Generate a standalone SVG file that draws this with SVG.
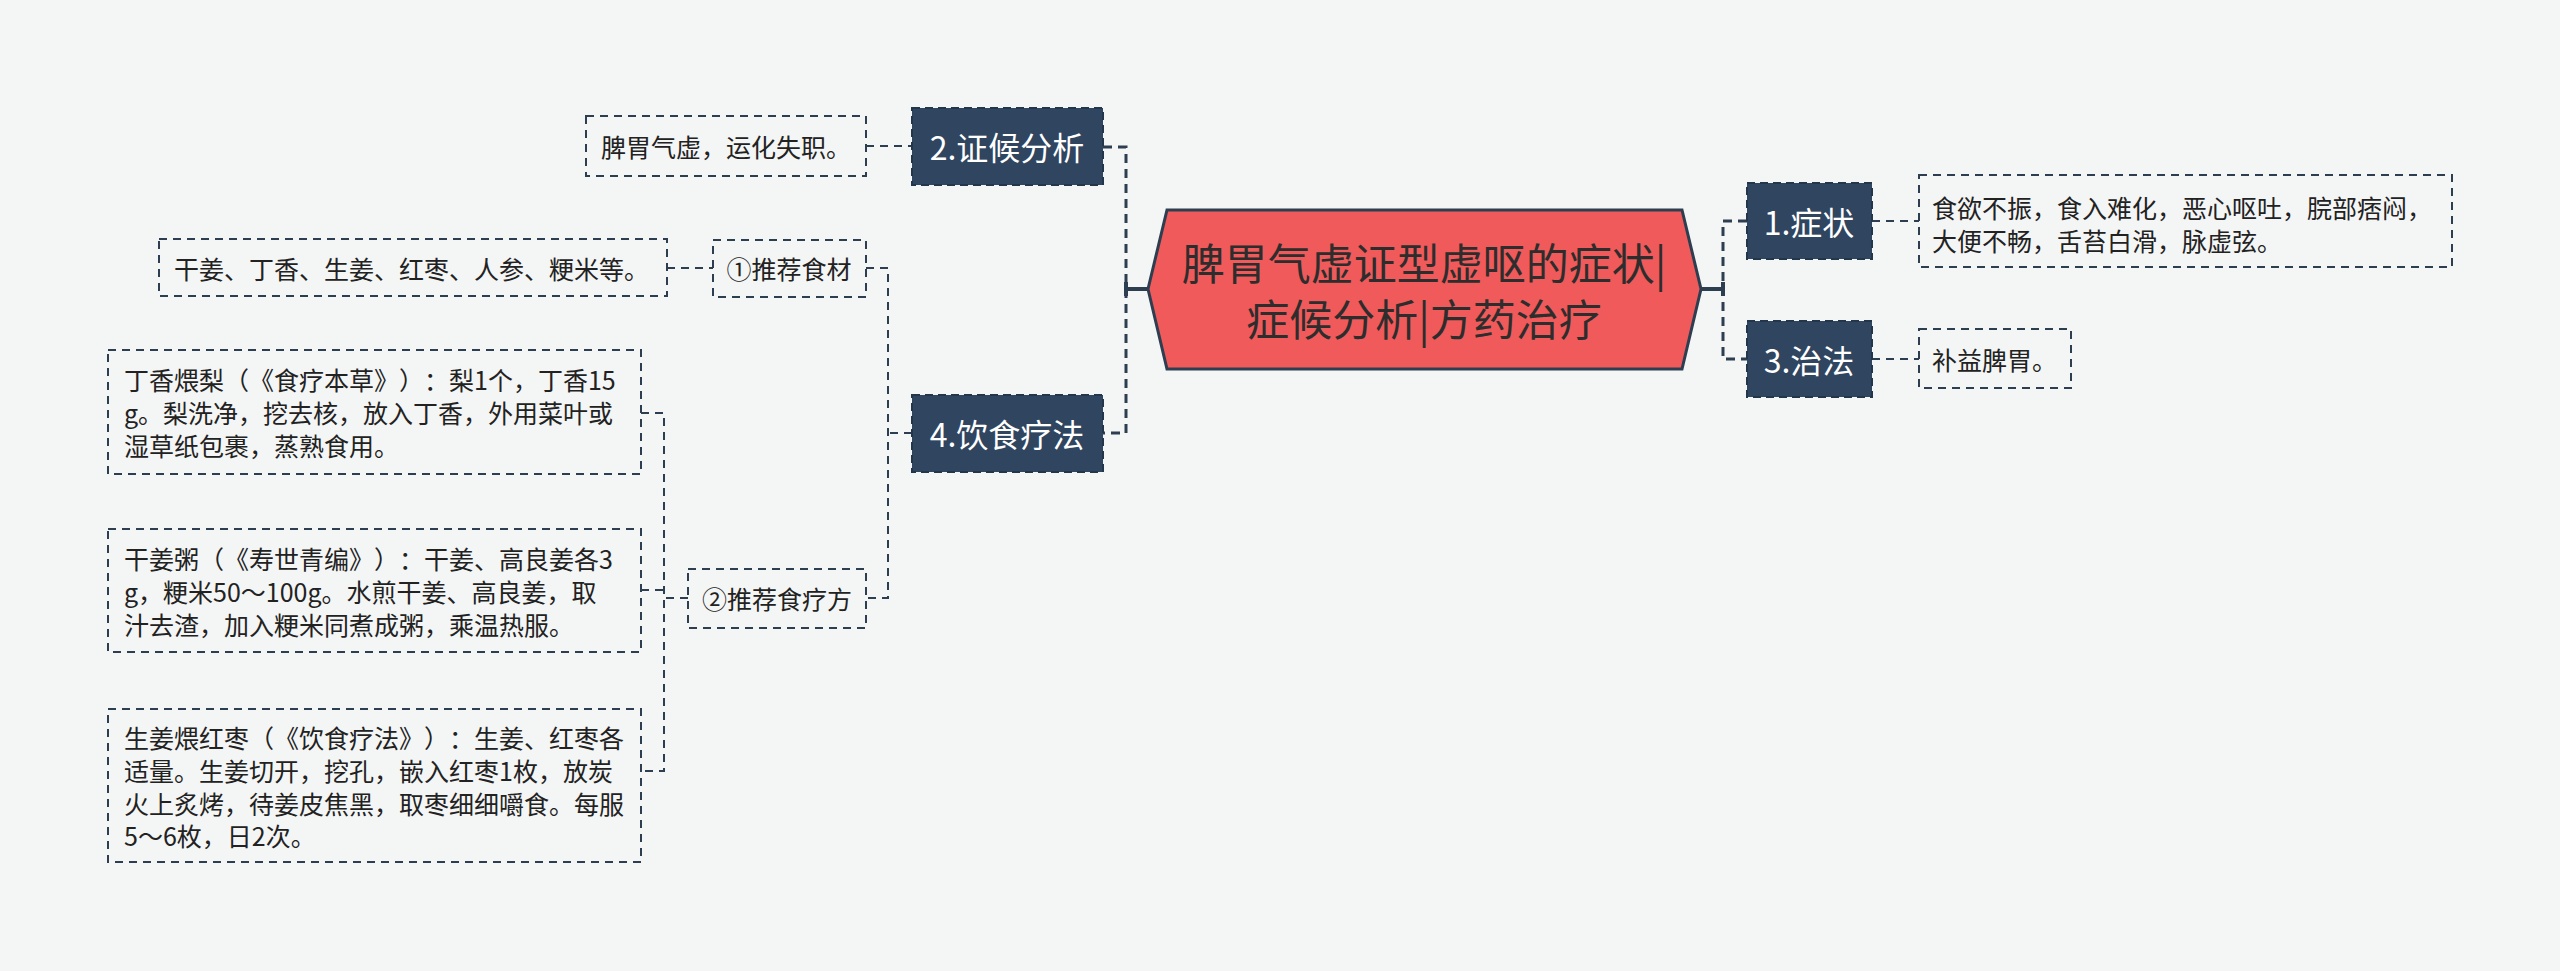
<svg xmlns="http://www.w3.org/2000/svg" width="2560" height="971" viewBox="0 0 2560 971">
<style>
text{font-family:"Noto Sans CJK SC","Noto Sans",sans-serif;dominant-baseline:central;text-spacing-trim:space-all;font-kerning:none}
.d{fill:none;stroke:#2c3e50;stroke-width:2;stroke-dasharray:8 6}
.p{fill:#2f4560;stroke:#22364c;stroke-width:2;stroke-dasharray:8 5}
.pt{fill:#ffffff;font-size:32px;text-anchor:middle}
.t{fill:#222222;font-size:25px}
.c{fill:none;stroke:#2c3e50;stroke-width:3;stroke-dasharray:9 6}
.s{fill:none;stroke:#2c3e50;stroke-width:4}
</style>
<rect width="2560" height="971" fill="#f4f5f5"/>
<g id="connectors">
<path class="s" d="M1148 289H1126M1126 282V296"/>
<path class="c" d="M1103 147H1126V433H1103"/>
<path class="d" d="M866 146H912"/>
<path class="d" d="M912 433H888M866 268H888V598H866"/>
<path class="d" d="M667 268H713"/>
<path class="d" d="M688 598H664M641 413H664V771H641M641 590H664"/>
<path class="s" d="M1701 289H1723M1723 282V296"/>
<path class="c" d="M1747 221H1723V359H1747"/>
<path class="d" d="M1872 221H1919M1872 359H1919"/>
</g>
<g id="root">
<polygon points="1148,289 1167,210 1682,210 1701,289 1682,369 1167,369" fill="#f05a5a" stroke="#2c3e50" stroke-width="3"/>
<text x="1424" y="261" font-size="43" fill="#2d2d2d" text-anchor="middle">脾胃气虚证型虚呕的症状|</text>
<text x="1424" y="317" font-size="43" fill="#2d2d2d" text-anchor="middle">症候分析|方药治疗</text>
</g>
<g id="n1">
<rect class="p" x="1747" y="183" width="125" height="76"/>
<text class="pt" x="1809" y="221">1.症状</text>
</g>
<g id="n1d">
<rect class="d" x="1919" y="175" width="533" height="92"/>
<text class="t" x="1932" y="207">食欲不振，食入难化，恶心呕吐，脘部痞闷，</text>
<text class="t" x="1932" y="240">大便不畅，舌苔白滑，脉虚弦。</text>
</g>
<g id="n3">
<rect class="p" x="1747" y="321" width="125" height="76"/>
<text class="pt" x="1809" y="359">3.治法</text>
</g>
<g id="n3d">
<rect class="d" x="1919" y="329" width="152" height="59"/>
<text class="t" x="1932" y="359">补益脾胃。</text>
</g>
<g id="n2">
<rect class="p" x="912" y="108" width="191" height="77"/>
<text class="pt" x="1007" y="146">2.证候分析</text>
</g>
<g id="n2d">
<rect class="d" x="586" y="116" width="280" height="60"/>
<text class="t" x="601" y="146">脾胃气虚，运化失职。</text>
</g>
<g id="n4">
<rect class="p" x="912" y="395" width="191" height="77"/>
<text class="pt" x="1007" y="433">4.饮食疗法</text>
</g>
<g id="n41">
<rect class="d" x="713" y="240" width="153" height="57"/>
<text class="t" x="789" y="268" text-anchor="middle">①推荐食材</text>
</g>
<g id="n41d">
<rect class="d" x="159" y="239" width="508" height="57"/>
<text class="t" x="174" y="268">干姜、丁香、生姜、红枣、人参、粳米等。</text>
</g>
<g id="n42">
<rect class="d" x="688" y="569" width="178" height="59"/>
<text class="t" x="777" y="598" text-anchor="middle">②推荐食疗方</text>
</g>
<g id="r1">
<rect class="d" x="108" y="350" width="533" height="124"/>
<text class="t" x="124" y="379">丁香煨梨（《食疗本草》）：梨1个，丁香15</text>
<text class="t" x="124" y="412">g。梨洗净，挖去核，放入丁香，外用菜叶或</text>
<text class="t" x="124" y="445">湿草纸包裹，蒸熟食用。</text>
</g>
<g id="r2">
<rect class="d" x="108" y="529" width="533" height="123"/>
<text class="t" x="124" y="558">干姜粥（《寿世青编》）：干姜、高良姜各3</text>
<text class="t" x="124" y="591">g，粳米50～100g。水煎干姜、高良姜，取</text>
<text class="t" x="124" y="624">汁去渣，加入粳米同煮成粥，乘温热服。</text>
</g>
<g id="r3">
<rect class="d" x="108" y="709" width="533" height="153"/>
<text class="t" x="124" y="737">生姜煨红枣（《饮食疗法》）：生姜、红枣各</text>
<text class="t" x="124" y="770">适量。生姜切开，挖孔，嵌入红枣1枚，放炭</text>
<text class="t" x="124" y="803">火上炙烤，待姜皮焦黑，取枣细细嚼食。每服</text>
<text class="t" x="124" y="835">5～6枚，日2次。</text>
</g>
</svg>
